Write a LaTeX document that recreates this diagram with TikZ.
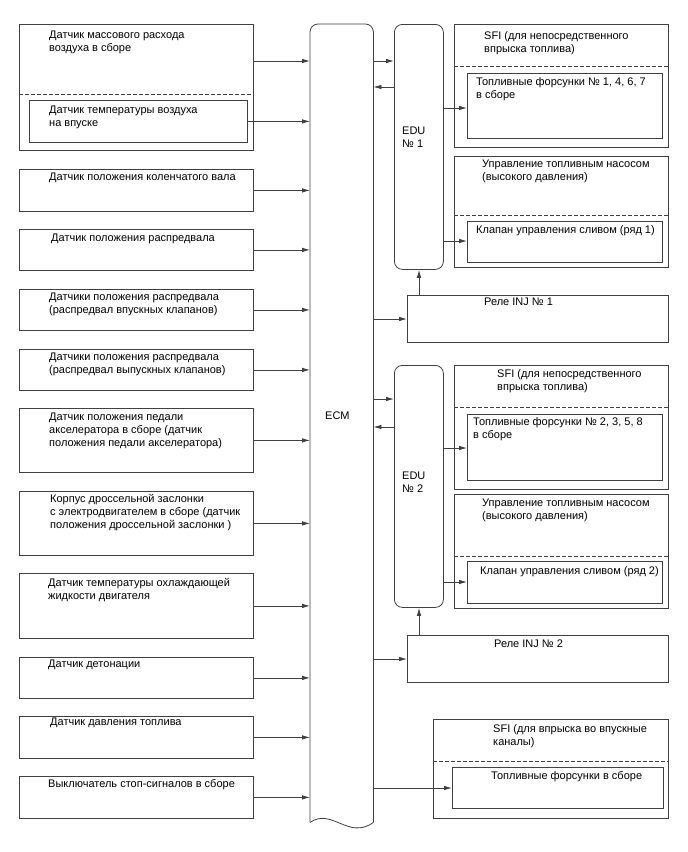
\documentclass[tikz,border=0pt]{standalone}
\usepackage{fontspec}
\setmainfont{Liberation Sans}
\usetikzlibrary{arrows.meta}
\tikzset{
 ln/.style={draw=black!75, line width=0.8pt},
 box/.style={ln, inner sep=0pt, anchor=north west},
 txt/.style={anchor=base west, inner sep=0pt, align=left, font=\fontsize{11}{13}\selectfont},
 arr/.style={ln, -{Latex[length=8pt,width=4.5pt]}},
 sep/.style={ln, dash pattern=on 4pt off 2pt},
}
\newcommand\mybox[5]{\node[box, minimum width={(#4-#2)*1pt}, minimum height={(#5-#3)*1pt}] (#1) at (#2,#3) {};}
\begin{document}
\begin{tikzpicture}[x=1pt,y=-1pt]
\useasboundingbox (0,0) rectangle (688,852);
% left sensor boxes
\mybox{maf}{19}{24}{253}{150}
\draw[sep] (19,94) -- (253,94);
\mybox{iat}{29}{100}{247}{142}
\mybox{crank}{19}{169}{253}{211}
\mybox{cam}{19}{229}{253}{270}
\mybox{intake}{19}{289}{253}{330}
\mybox{exhaust}{19}{349}{253}{390}
\mybox{pedal}{19}{408}{253}{472}
\mybox{throttle}{19}{491}{253}{555}
\mybox{coolant}{19}{573}{253}{638}
\mybox{knock}{19}{657}{253}{698}
\mybox{fuelp}{19}{716}{253}{758}
\mybox{brake}{19}{776}{253}{818}
% (base anchor = baseline of the last line)
\node[txt] (tmaf) at (49,51.5) {Датчик массового расхода\\воздуха в сборе};
\node[txt] (tiat) at (49,126.5) {Датчик температуры воздуха\\на впуске};
\node[txt] (tcrank) at (49,180.5) {Датчик положения коленчатого вала};
\node[txt] (tcam) at (51,241.5) {Датчик положения распредвала};
\node[txt] (tintake) at (49,313.5) {Датчики положения распредвала\\(распредвал впускных клапанов)};
\node[txt] (texhaust) at (49,373.5) {Датчики положения распредвала\\(распредвал выпускных клапанов)};
\node[txt] (tpedal) at (49,446.5) {Датчик положения педали\\акселератора в сборе (датчик\\положения педали акселератора)};
\node[txt] (tthrottle) at (50,528.5) {Корпус дроссельной заслонки\\с электродвигателем в сборе (датчик\\положения дроссельной заслонки )};
\node[txt] (tcoolant) at (48,599.5) {Датчик температуры охлаждающей\\жидкости двигателя};
\node[txt] (tknock) at (48,667.5) {Датчик детонации};
\node[txt] (tfuelp) at (50,725.5) {Датчик давления топлива};
\node[txt] (tbrake) at (48,787.5) {Выключатель стоп-сигналов в сборе};
% ECM
\node[inner sep=0pt, minimum width=63pt, minimum height=798pt, anchor=north west] (ecm) at (310,24) {};
\draw[ln, rounded corners=8pt] (ecm.south west) -- (ecm.north west) -- (ecm.north east) -- (ecm.south east);
\draw[ln] (ecm.south west) .. controls +(22,-15) and +(-25,18) .. (ecm.south east);
\node[txt] (tecm) at (325,419.5) {ECM};
% EDUs
\node[box, rounded corners=8pt, minimum width=49pt, minimum height=245pt] (edu1) at (394,24) {};
\node[box, rounded corners=8pt, minimum width=49pt, minimum height=242pt] (edu2) at (394,365) {};
\node[txt] (tedu1) at (402,147.5) {EDU\\№ 1};
\node[txt] (tedu2) at (402,492.5) {EDU\\№ 2};
% right boxes
\mybox{sfi1}{454}{24}{668}{147}
\draw[sep] (454,66) -- (668,66);
\mybox{inj1}{467}{73}{662}{138}
\mybox{pump1}{454}{156}{668}{267}
\draw[sep] (454,215) -- (668,215);
\mybox{valve1}{467}{221}{662}{262}
\mybox{relay1}{407}{295}{668}{342}
\mybox{sfi2}{454}{365}{668}{489}
\draw[sep] (454,407) -- (668,407);
\mybox{inj2}{467}{414}{662}{480}
\mybox{pump2}{454}{494}{668}{608}
\draw[sep] (454,556) -- (668,556);
\mybox{valve2}{467}{561}{662}{603}
\mybox{relay2}{407}{635}{668}{682}
\mybox{sfip}{433}{719}{668}{818}
\draw[sep] (433,761) -- (668,761);
\mybox{injp}{452}{767}{663}{808}
\node[txt] (tsfi1) at (484,52) {SFI (для непосредственного\\впрыска топлива)};
\node[txt] (tinj1) at (476,98.5) {Топливные форсунки № 1, 4, 6, 7\\в сборе};
\node[txt] (tpump1) at (482,180.5) {Управление топливным насосом\\(высокого давления)};
\node[txt] (tvalve1) at (476,233.5) {Клапан управления сливом (ряд 1)};
\node[txt] (trelay1) at (484,305.5) {Реле INJ № 1};
\node[txt] (tsfi2) at (497,390) {SFI (для непосредственного\\впрыска топлива)};
\node[txt] (tinj2) at (473,438.5) {Топливные форсунки № 2, 3, 5, 8\\в сборе};
\node[txt] (tpump2) at (482,519.5) {Управление топливным насосом\\(высокого давления)};
\node[txt] (tvalve2) at (480,574.5) {Клапан управления сливом (ряд 2)};
\node[txt] (trelay2) at (494,647.5) {Реле INJ № 2};
\node[txt] (tsfip) at (493,745.5) {SFI (для впрыска во впускные\\каналы)};
\node[txt] (tinjp) at (491,779.5) {Топливные форсунки в сборе};
% connectors sensors -> ECM
\draw[arr] (maf.east |- 0,61) -- (ecm.west |- 0,61);
\draw[arr] (iat.east) -- (ecm.west |- iat.east);
\foreach \n in {crank,cam,intake,exhaust,pedal,throttle,coolant,knock,fuelp,brake}
  \draw[arr] (\n.east) -- (ecm.west |- \n.east);
% ECM <-> EDU
\draw[arr] (ecm.east |- 0,61) -- (edu1.west |- 0,61);
\draw[arr] (edu1.west |- 0,87) -- (ecm.east |- 0,87);
\draw[arr] (ecm.east |- 0,399) -- (edu2.west |- 0,399);
\draw[arr] (edu2.west |- 0,427) -- (ecm.east |- 0,427);
% EDU -> actuators
\draw[arr] (edu1.east |- 0,108) -- (inj1.west |- 0,108);
\draw[arr] (edu1.east |- 0,241) -- (valve1.west |- 0,241);
\draw[arr] (edu2.east |- 0,448) -- (inj2.west |- 0,448);
\draw[arr] (edu2.east |- 0,582) -- (valve2.west |- 0,582);
% relays
\draw[arr] (ecm.east |- 0,319) -- (relay1.west |- 0,319);
\draw[arr] (relay1.north -| 419,0) -- (edu1.south -| 419,0);
\draw[arr] (ecm.east |- 0,659) -- (relay2.west |- 0,659);
\draw[arr] (relay2.north -| 419,0) -- (edu2.south -| 419,0);
% port injection
\draw[arr] (ecm.east |- 0,788) -- (injp.west |- 0,788);
\end{tikzpicture}
\end{document}
